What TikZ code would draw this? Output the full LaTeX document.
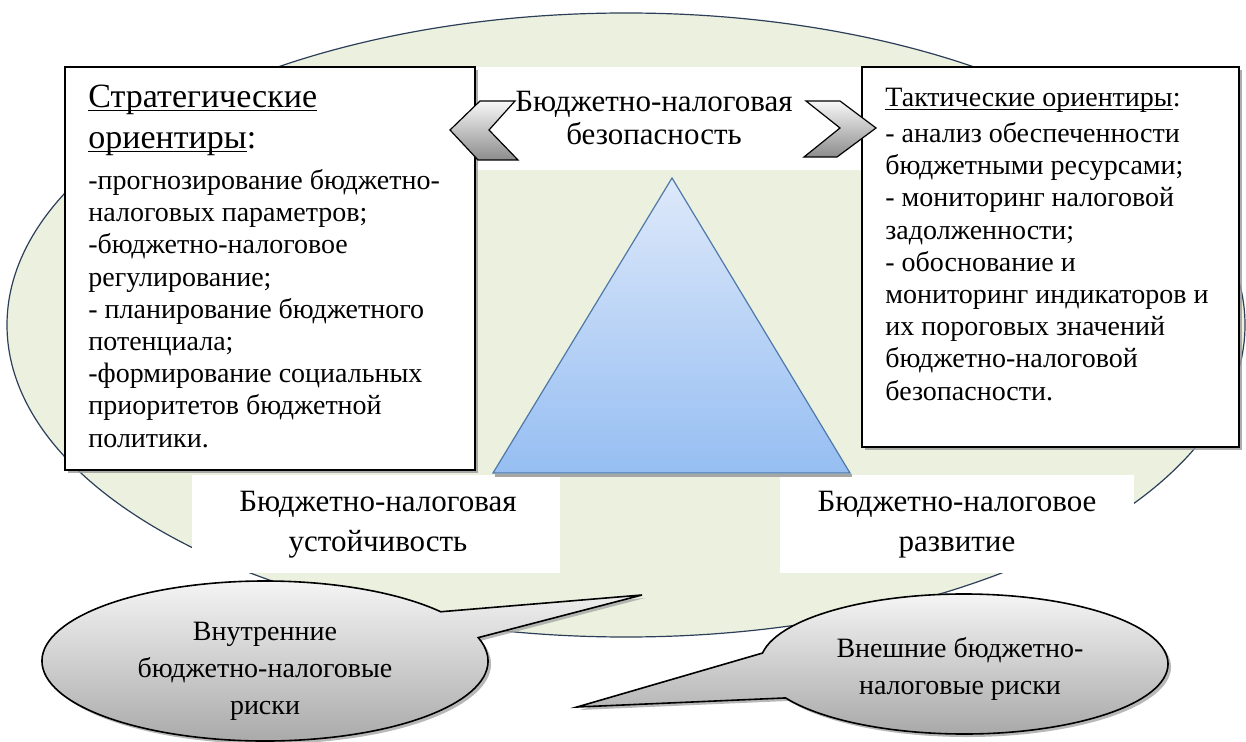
\documentclass[tikz,border=0pt]{standalone}
\usepackage{fontspec}
\setmainfont{Liberation Serif}
\usetikzlibrary{calc,shadows}

\definecolor{ovalfill}{RGB}{235,241,222}
\definecolor{ovaldraw}{RGB}{45,62,88}
\definecolor{pyrtop}{RGB}{222,233,250}
\definecolor{pyrbot}{RGB}{150,190,242}
\definecolor{pyrdraw}{RGB}{79,120,170}
\newcommand{\ulword}[1]{\setbox0\hbox{#1}\rlap{\rule[-1.6pt]{\wd0}{0.6pt}}\box0}

\begin{document}
\begin{tikzpicture}[x=0.5pt,y=-0.5pt,
    oval/.style={fill=ovalfill, draw=ovaldraw, line width=0.6pt},
    band/.style={fill=white, draw=none},
    infobox/.style={draw=black, fill=white, line width=0.9pt,
        drop shadow={shadow xshift=1.5pt, shadow yshift=-1.5pt, fill=black!40, opacity=0.8}},
    pyramid/.style={draw=pyrdraw, line width=0.6pt, top color=pyrtop, bottom color=pyrbot},
    chevron/.style={draw=black, line width=0.6pt, top color=black!3, bottom color=black!45},
    bubble/.style={draw=black, line width=0.8pt, top color=black!3, bottom color=black!35,
        drop shadow={shadow xshift=1.5pt, shadow yshift=-1.5pt, fill=black!35, opacity=0.8}},
    txt/.style={inner sep=0pt, font=\fontsize{14}{16.1}\selectfont},
    listtxt/.style={txt, align=left, anchor=north west},
    midtxt/.style={inner sep=0pt, align=center}]
    \useasboundingbox (0,0) rectangle (1246,742);

    % Background oval
    \draw[oval] (626,325) ellipse [x radius=619, y radius=312];

    % White bands for the three labels
    \fill[band] (475,67) rectangle (862,170);
    \fill[band] (192,475) rectangle (560,573);
    \fill[band] (780,475) rectangle (1134,573);

    % Pyramid
    \coordinate (apex) at (672,178);
    \coordinate (baseL) at (493,473);
    \coordinate (baseR) at (850,473);
    \fill[black!35] ($(baseL)+(2,1)$) -- ($(baseR)+(2,1)$) -- ($(baseR)+(2,4)$) -- ($(baseL)+(2,4)$) -- cycle;
    \draw[pyramid] (apex) -- (baseR) -- (baseL) -- cycle;

    % Boxes with orientations
    \draw[infobox] (65,67) rectangle (475,470);
    \draw[infobox] (862,67) rectangle (1239,447);

    \node[listtxt, font=\fontsize{17}{20.5}\selectfont] (strat) at (88,85)
        {\ulword{Стратегические}\\\ulword{ориентиры}:};
    \node[listtxt] (stratlist) at (88,169)
        {-прогнозирование бюджетно-\\налоговых параметров;\\-бюджетно-налоговое\\регулирование;\\- планирование бюджетного\\потенциала;\\-формирование социальных\\приоритетов бюджетной\\политики.};
    \node[listtxt] (takt) at (885,88) {\ulword{Тактические ориентиры}:};
    \node[listtxt] (taktlist) at (885,122)
        {- анализ обеспеченности\\бюджетными ресурсами;\\- мониторинг налоговой\\задолженности;\\- обоснование и\\мониторинг индикаторов и\\их пороговых значений\\бюджетно-налоговой\\безопасности.};

    % Labels
    \node[txt, midtxt, font=\fontsize{15.5}{16.5}\selectfont] (bsec) at (654,118) {Бюджетно-налоговая\\безопасность};
    \node[txt, midtxt, font=\fontsize{15.5}{20}\selectfont] (ust) at (378,525) {Бюджетно-налоговая\\устойчивость};
    \node[txt, midtxt, font=\fontsize{15.5}{20}\selectfont] (razv) at (957,525) {Бюджетно-налоговое\\развитие};

    % Chevrons
    \draw[chevron] (450,130) -- (480,101) -- (515,101) -- (489,130) -- (518,160) -- (478,160) -- cycle;
    \draw[chevron] (806,101) -- (840,101) -- (876,128) -- (837,157) -- (804,157) -- (840,128) -- cycle;

    % Risk bubbles
    \coordinate (innerC) at (265,661);
    \coordinate (innerTip) at (642,595);
    \draw[bubble] ($(innerC)+(-17:223 and 80)$) arc[start angle=-17, end angle=322, x radius=223, y radius=80]
        -- (innerTip) -- cycle;
    \node[txt, midtxt, font=\fontsize{14}{18.5}\selectfont] (inner) at (265,671)
        {Внутренние\\бюджетно-налоговые\\риски};

    \coordinate (outerC) at (964,664);
    \coordinate (outerTip) at (577,707);
    \draw[bubble] ($(outerC)+(189:204 and 70)$) arc[start angle=189, end angle=511, x radius=204, y radius=70]
        -- (outerTip) -- cycle;
    \node[txt, midtxt, font=\fontsize{14}{18.5}\selectfont] (outer) at (960,669)
        {Внешние бюджетно-\\налоговые риски};
\end{tikzpicture}
\end{document}
